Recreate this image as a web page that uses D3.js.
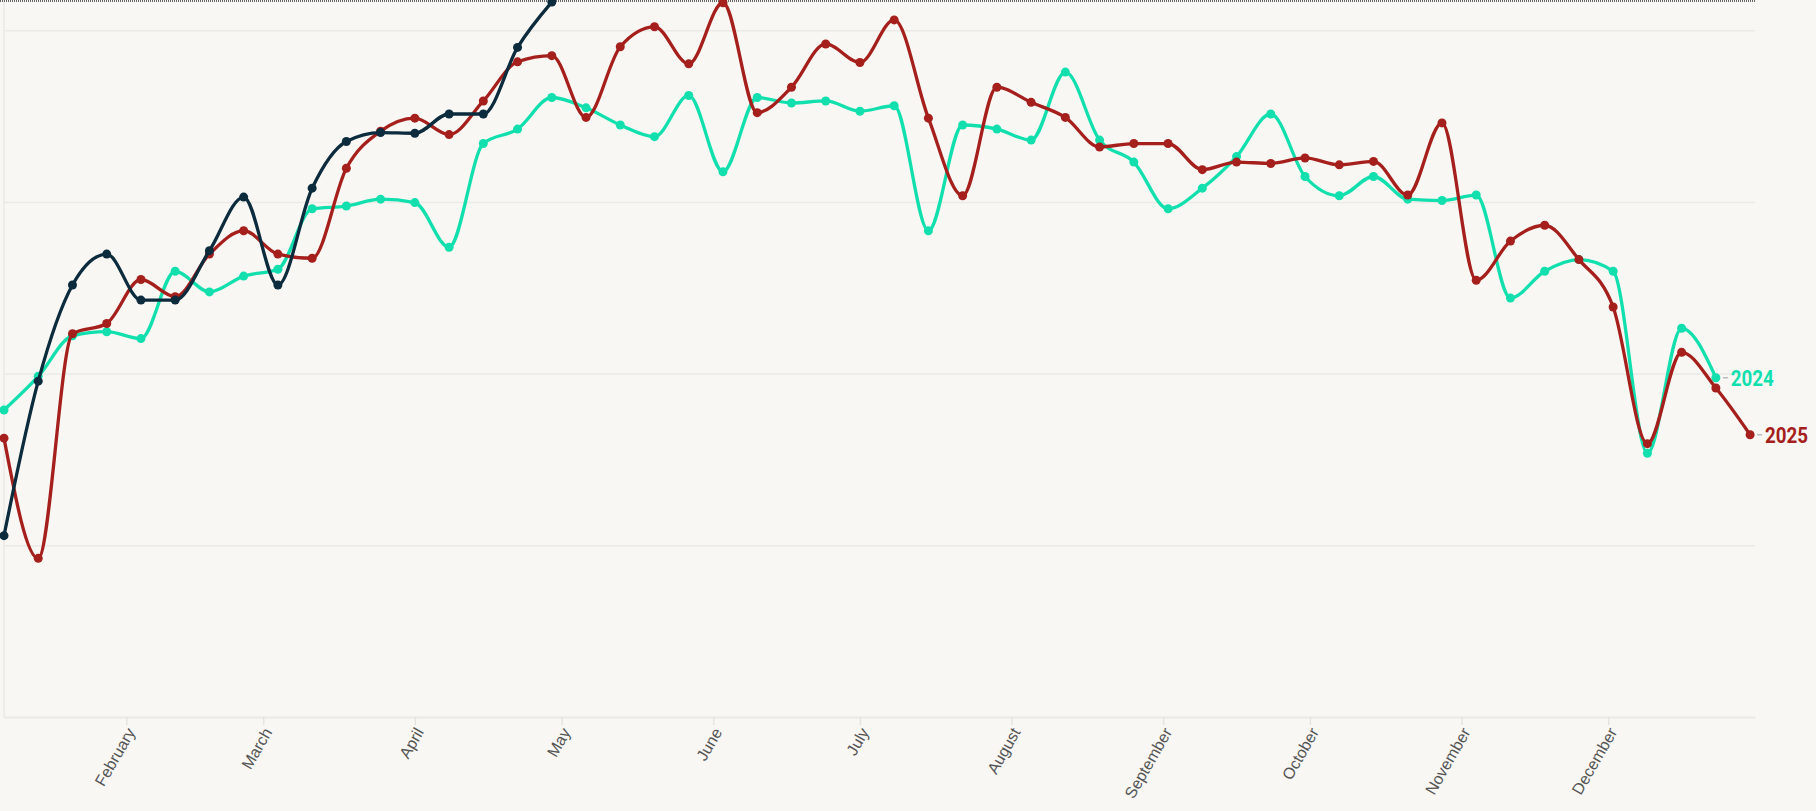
<!DOCTYPE html>
<html>
<head>
<meta charset="utf-8">
<script src="https://cdn.jsdelivr.net/npm/d3@7"></script>
<style>
body { margin: 0; background: #f8f7f3; }
svg { display: block; font-family: Roboto, "Noto Sans", sans-serif; }
</style>
</head>
<body>
<svg id="chart"></svg>
<script>
// weekly index, week 1 starts on Jan 7
const weekNumbers = d3.range(1, 53);

const values2024 = [44.7, 49.6, 55.5, 56.1, 55.1, 64.9, 61.9, 64.2, 65.2, 74.0,
                    74.4, 75.4, 74.9, 68.4, 83.5, 85.6, 90.2, 88.7, 86.2, 84.5,
                    90.5, 79.4, 90.2, 89.4, 89.7, 88.2, 89.0, 70.8, 86.2, 85.6,
                    84.0, 93.9, 84.0, 80.8, 74.0, 77.0, 81.6, 87.8, 78.7, 75.9,
                    78.7, 75.4, 75.2, 76.0, 61.0, 64.9, 66.6, 64.9, 38.4, 56.6,
                    49.4];
const values2025 = [40.6, 23.1, 55.8, 57.3, 63.7, 61.2, 67.4, 70.8, 67.4, 66.8,
                    79.9, 85.3, 87.2, 84.8, 89.7, 95.4, 96.3, 87.3, 97.6, 100.5,
                    95.1, 104.0, 88.0, 91.7, 98.0, 95.3, 101.5, 87.2, 75.9, 91.7,
                    89.5, 87.3, 83.0, 83.5, 83.5, 79.7, 80.8, 80.6, 81.4, 80.4,
                    80.9, 76.0, 86.5, 63.6, 69.3, 71.6, 66.6, 59.7, 39.8, 53.1,
                    47.9, 41.1];
const values2026 = [26.4, 48.9, 62.9, 67.4, 60.7, 60.7, 67.9, 75.7, 62.9, 77.0,
                    83.8, 85.1, 85.0, 87.8, 87.8, 97.5, 104.1];

const monthTicks = ["2025-02-01", "2025-03-01", "2025-04-01", "2025-05-01", "2025-06-01", "2025-07-01",
                    "2025-08-01", "2025-09-01", "2025-10-01", "2025-11-01", "2025-12-01"];
const monthLabels = ["February", "March", "April", "May", "June", "July",
                     "August", "September", "October", "November", "December"];
const yTicks = [0, 25, 50, 75, 100];

const width = 1816, height = 811;
const plot = {left: 4, right: 1755, top: 0, bottom: 717};

const firstWeek = new Date(Date.UTC(2025, 0, 7));
const weekDate = w => d3.utcDay.offset(firstWeek, 7 * (w - 1));

const svg = d3.select("#chart").attr("width", width).attr("height", height);

const x = d3.scaleUtc()
    .domain([firstWeek, new Date(Date.UTC(2025, 11, 31))])
    .range([plot.left, plot.right]);
const y = d3.scaleLinear().domain([0, 104.4]).range([plot.bottom, plot.top]);

// horizontal grid
svg.append("g")
    .attr("transform", `translate(${plot.left},0)`)
    .call(d3.axisLeft(y).tickValues(yTicks).tickSize(-(plot.right - plot.left)).tickFormat(""))
    .call(g => g.select(".domain").remove())
    .call(g => g.selectAll(".tick line").attr("stroke", "#ebeae7").attr("stroke-width", 1.5));

// left edge
svg.append("line")
    .attr("x1", plot.left).attr("x2", plot.left)
    .attr("y1", plot.top).attr("y2", plot.bottom)
    .attr("stroke", "#ebeae7").attr("stroke-width", 1.5);

// bottom axis with month labels
const labelOf = d3.scaleOrdinal().domain(monthTicks).range(monthLabels);
svg.append("g")
    .attr("transform", `translate(0,${plot.bottom})`)
    .call(d3.axisBottom(x)
        .tickValues(monthTicks.map(d => new Date(d + "T00:00:00Z")))
        .tickSize(8)
        .tickSizeOuter(0)
        .tickFormat(d => labelOf(d3.utcFormat("%Y-%m-%d")(d))))
    .call(g => g.select(".domain").attr("stroke", "#ebeae7").attr("stroke-width", 2))
    .call(g => g.selectAll(".tick line").attr("stroke", "#e4e3e0").attr("stroke-width", 1.5))
    .call(g => g.selectAll(".tick text")
        .attr("fill", "#555")
        .style("font-size", "16px")
        .attr("text-anchor", "end")
        .attr("y", 0).attr("dy", 0)
        .attr("transform", "translate(9,15) rotate(-60)"));

// dotted top rule
svg.append("line")
    .attr("x1", 0).attr("x2", plot.right)
    .attr("y1", 1).attr("y2", 1)
    .attr("stroke", "#666").attr("stroke-width", 2)
    .attr("stroke-dasharray", "1,1");

const series = [
    {name: "2024", values: values2024, color: "#12dfae", label: true},
    {name: "2025", values: values2025, color: "#a51f1c", label: true},
    {name: "2026", values: values2026, color: "#0c2b3d", label: false}
];

const line = d3.line()
    .x((d, i) => x(weekDate(weekNumbers[i])))
    .y(d => y(d))
    .curve(d3.curveMonotoneX);

series.forEach(s => {
    const g = svg.append("g");
    g.append("path")
        .attr("d", line(s.values))
        .attr("fill", "none")
        .attr("stroke", s.color)
        .attr("stroke-width", 3.3);
    g.selectAll("circle").data(s.values).enter().append("circle")
        .attr("cx", (d, i) => x(weekDate(weekNumbers[i])))
        .attr("cy", d => y(d))
        .attr("r", 4.5)
        .attr("fill", s.color);
    if (s.label) {
        const last = s.values.length - 1;
        const lx = x(weekDate(weekNumbers[last]));
        const ly = y(s.values[last]);
        g.append("line")
            .attr("x1", lx + 7).attr("x2", lx + 12)
            .attr("y1", ly).attr("y2", ly)
            .attr("stroke", "#bbb").attr("stroke-width", 1.5);
        // condensed bold look
        g.append("text")
            .attr("x", lx + 15).attr("y", ly)
            .attr("dy", "0.36em")
            .attr("fill", s.color)
            .style("font-size", "22px")
            .style("font-weight", "bold")
            .attr("textLength", 43)
            .attr("lengthAdjust", "spacingAndGlyphs")
            .text(s.name);
    }
});
</script>
</body>
</html>
